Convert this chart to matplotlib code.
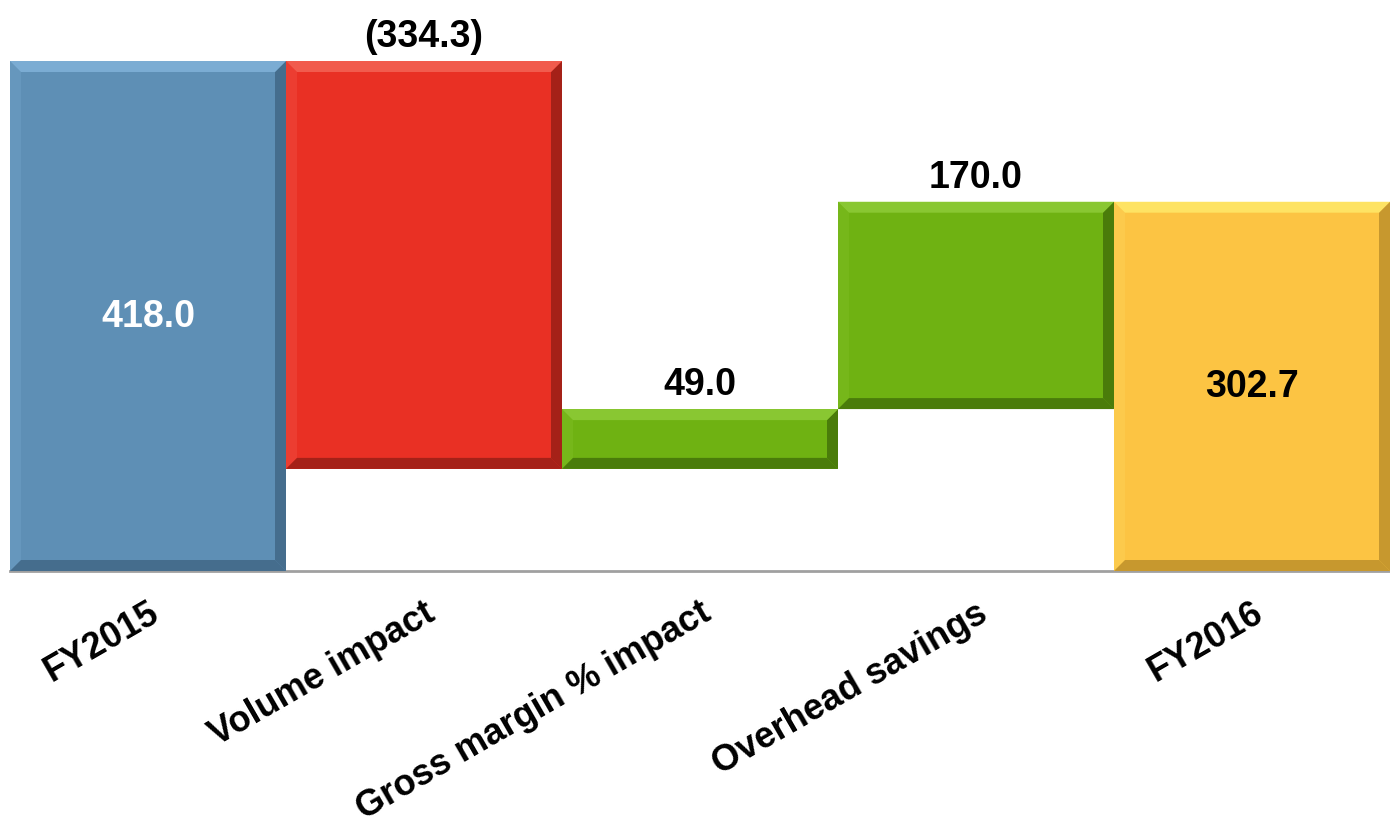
import matplotlib
matplotlib.use("Agg")
import matplotlib.pyplot as plt
from matplotlib.patches import Polygon
from matplotlib.transforms import IdentityTransform
import numpy as np

categories = ["FY2015", "Volume impact", "Gross margin % impact", "Overhead savings", "FY2016"]
values = [418.0, -334.3, 49.0, 170.0, 302.7]
is_total = [True, False, False, False, True]
value_labels = ["418.0", "(334.3)", "49.0", "170.0", "302.7"]

base_colors = ["#5E8FB5", "#E93024", "#6FB212", "#6FB212", "#FCC443"]
light_colors = ["#86B6DE", "#F46A5C", "#93CF3E", "#93CF3E", "#FFEE6E"]
dark_colors = ["#3D6280", "#8E1C14", "#3E6A08", "#3E6A08", "#B68A28"]
side_light = ["#6A9AC0", "#EE4236", "#79BA1E", "#79BA1E", "#FDCD50"]
label_colors = ["white", "black", "black", "black", "black"]

plt.rcParams['font.family'] = ['Liberation Sans', 'DejaVu Sans']

fig = plt.figure(figsize=(13.9, 8.29), dpi=100)
ax = fig.add_axes([10/1390, (829-572)/829, 1380/1390, (572-62)/829])

# compute waterfall bottoms/heights
bottoms, heights = [], []
running = 0.0
for v, t in zip(values, is_total):
    if t:
        bottoms.append(0.0)
        heights.append(v)
        running = v
    else:
        new = running + v
        bottoms.append(min(running, new))
        heights.append(abs(v))
        running = new

x = np.arange(len(categories))
bars = ax.bar(x, heights, bottom=bottoms, width=1.0, color=base_colors, edgecolor='none', zorder=2)

ax.set_xlim(-0.5, len(categories) - 0.5)
ax.set_ylim(0, 418.0)
for s in ["top", "right", "left"]:
    ax.spines[s].set_visible(False)
ax.spines["bottom"].set_color("#A0A0A0")
ax.spines["bottom"].set_linewidth(2)
ax.spines["bottom"].set_zorder(1)
ax.set_yticks([])
ax.set_xticks(x)
ax.set_xticklabels(categories, rotation=30, ha='right', rotation_mode='anchor',
                   fontsize=26, fontweight='bold')
ax.tick_params(axis='x', length=0, pad=17)

fig.canvas.draw()
bev = 11
for i, b in enumerate(bars):
    (x0, y0), (x1, y1) = ax.transData.transform([(b.get_x(), b.get_y()),
                                                  (b.get_x() + b.get_width(), b.get_y() + b.get_height())])
    top = [(x0, y1), (x1, y1), (x1 - bev, y1 - bev), (x0 + bev, y1 - bev)]
    bot = [(x0, y0), (x1, y0), (x1 - bev, y0 + bev), (x0 + bev, y0 + bev)]
    left = [(x0, y0), (x0, y1), (x0 + bev, y1 - bev), (x0 + bev, y0 + bev)]
    right = [(x1, y0), (x1, y1), (x1 - bev, y1 - bev), (x1 - bev, y0 + bev)]
    for poly, c in [(left, side_light[i]), (right, dark_colors[i]), (bot, dark_colors[i]), (top, light_colors[i])]:
        ax.add_patch(Polygon(poly, closed=True, transform=IdentityTransform(), facecolor=c,
                             edgecolor='none', alpha=0.75, zorder=3, clip_on=False))

for i, b in enumerate(bars):
    cx = b.get_x() + b.get_width() / 2
    if is_total[i]:
        ax.text(cx, b.get_y() + b.get_height() / 2, value_labels[i], ha='center', va='center',
                fontsize=27, fontweight='bold', color=label_colors[i], zorder=5)
    else:
        ax.annotate(value_labels[i], (cx, b.get_y() + b.get_height()), xytext=(0, 5),
                    textcoords='offset points', ha='center', va='bottom',
                    fontsize=27, fontweight='bold', color='black', zorder=5, annotation_clip=False)

fig.savefig("out.png", dpi=100)
